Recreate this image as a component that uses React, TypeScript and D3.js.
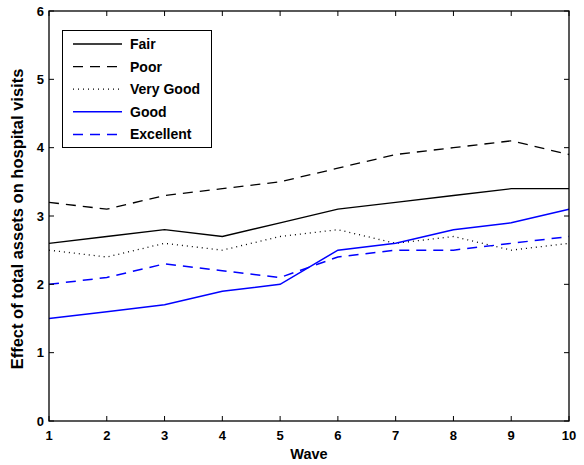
import React from 'react';
import * as d3 from 'd3';

const waves = [1, 2, 3, 4, 5, 6, 7, 8, 9, 10];
const fair = [2.6, 2.7, 2.8, 2.7, 2.9, 3.1, 3.2, 3.3, 3.4, 3.4];
const poor = [3.2, 3.1, 3.3, 3.4, 3.5, 3.7, 3.9, 4.0, 4.1, 3.9];
const veryGood = [2.5, 2.4, 2.6, 2.5, 2.7, 2.8, 2.6, 2.7, 2.5, 2.6];
const good = [1.5, 1.6, 1.7, 1.9, 2.0, 2.5, 2.6, 2.8, 2.9, 3.1];
const excellent = [2.0, 2.1, 2.3, 2.2, 2.1, 2.4, 2.5, 2.5, 2.6, 2.7];
const yTicks = [0, 1, 2, 3, 4, 5, 6];

const series = [
  { name: 'Fair', values: fair, color: '#000', dash: '' },
  { name: 'Poor', values: poor, color: '#000', dash: '10,7' },
  { name: 'Very Good', values: veryGood, color: '#000', dash: '1,4' },
  { name: 'Good', values: good, color: '#0000ff', dash: '' },
  { name: 'Excellent', values: excellent, color: '#0000ff', dash: '10,7' },
];

const W = 584;
const H = 465;
const m = { left: 49, right: 569, top: 11, bottom: 421 };
const font = "'Liberation Sans', Arial, Helvetica, sans-serif";
const fs = 13;

export default function App() {
  const x = d3.scaleLinear().domain([1, 10]).range([m.left, m.right]);
  const y = d3.scaleLinear().domain([0, 6]).range([m.bottom, m.top]);
  const line = d3
    .line<number>()
    .x((_, i) => x(waves[i]))
    .y((d) => y(d));
  const tl = 5;

  return (
    <svg
      width={W}
      height={H}
      style={{ position: 'absolute', left: 0, top: 0, background: '#fff' }}
      fontFamily={font}
      fontWeight="bold"
    >
      <rect x={0} y={0} width={W} height={H} fill="#fff" />
      {/* series */}
      {series.map((s) => (
        <path
          key={s.name}
          d={line(s.values) ?? ''}
          fill="none"
          stroke={s.color}
          strokeWidth={s.color === '#000' ? 1.3 : 1.5}
          strokeDasharray={s.dash || undefined}
        />
      ))}
      {/* box */}
      <rect
        x={m.left}
        y={m.top}
        width={m.right - m.left}
        height={m.bottom - m.top}
        fill="none"
        stroke="#000"
        strokeWidth={1.3}
      />
      {/* x ticks */}
      {waves.map((w) => (
        <g key={'x' + w}>
          <line x1={x(w)} x2={x(w)} y1={m.bottom} y2={m.bottom - tl} stroke="#000" />
          <line x1={x(w)} x2={x(w)} y1={m.top} y2={m.top + tl} stroke="#000" />
          <text x={x(w)} y={m.bottom + 19} textAnchor="middle" fontSize={fs}>
            {w}
          </text>
        </g>
      ))}
      {/* y ticks */}
      {yTicks.map((t) => (
        <g key={'y' + t}>
          <line x1={m.left} x2={m.left + tl} y1={y(t)} y2={y(t)} stroke="#000" />
          <line x1={m.right} x2={m.right - tl} y1={y(t)} y2={y(t)} stroke="#000" />
          <text x={m.left - 5} y={y(t)} dy="0.35em" textAnchor="end" fontSize={fs}>
            {t}
          </text>
        </g>
      ))}
      {/* axis labels */}
      <text x={(m.left + m.right) / 2} y={459} textAnchor="middle" fontSize={14.5}>
        Wave
      </text>
      <text
        transform={`translate(23,${(m.top + m.bottom) / 2 + 3}) rotate(-90)`}
        textAnchor="middle"
        fontSize={16.5}
      >
        Effect of total assets on hospital visits
      </text>
      {/* legend */}
      <rect x={62.5} y={30.5} width={149} height={117} fill="#fff" stroke="#000" strokeWidth={1} />
      {series.map((s, i) => {
        const ly = 44 + i * 22.6;
        return (
          <g key={'l' + s.name}>
            <line
              x1={73}
              x2={122}
              y1={ly}
              y2={ly}
              stroke={s.color}
              strokeWidth={s.color === '#000' ? 1.3 : 1.5}
              strokeDasharray={s.dash || undefined}
            />
            <text x={130} y={ly} dy="0.35em" fontSize={14}>
              {s.name}
            </text>
          </g>
        );
      })}
    </svg>
  );
}
